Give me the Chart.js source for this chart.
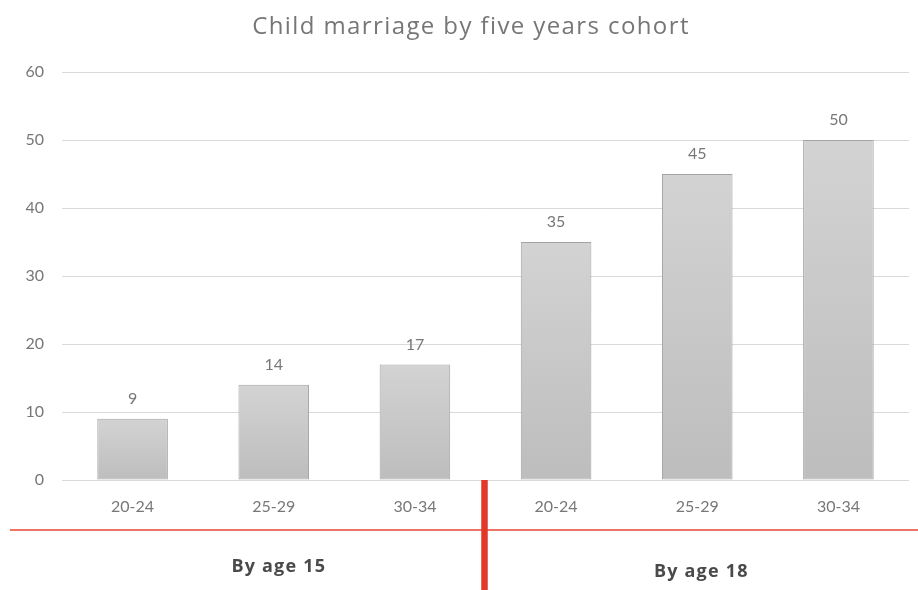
<!DOCTYPE html>
<html>
<head>
<meta charset="utf-8">
<script src="https://cdn.jsdelivr.net/npm/chart.js@4/dist/chart.umd.min.js"></script>
<style>
  html, body { margin: 0; padding: 0; background: #ffffff; }
  canvas { display: block; }
</style>
</head>
<body>
<canvas id="c" width="918" height="590"></canvas>
<script>
// Cohort categories, grouped by marriage age threshold
const cohorts = ['20-24', '25-29', '30-34', '20-24', '25-29', '30-34'];
const groups = ['By age 15', 'By age 18'];
const groupSize = 3;
// Percentage married in each cohort
const values = [9, 14, 17, 35, 45, 50];
const yTicks = [0, 10, 20, 30, 40, 50, 60];
const titleText = 'Child marriage by five years cohort';

const FONT = 'Lato, "Open Sans", sans-serif';
const HEAD_FONT = '"Open Sans", Lato, sans-serif';
const TEXT = '#777777';

// Vertical gradient for each bar, from its own top down to the baseline
function barFill(ctx) {
  const chart = ctx.chart;
  const y = chart.scales.y;
  if (!chart.chartArea || !y || ctx.dataIndex === undefined) return '#c8c8c8';
  const top = y.getPixelForValue(values[ctx.dataIndex]);
  const bottom = y.getPixelForValue(0);
  const g = chart.ctx.createLinearGradient(0, top, 0, bottom);
  g.addColorStop(0, '#d3d3d3');
  g.addColorStop(1, '#bdbdbd');
  return g;
}

// Title, value labels above bars, group labels and red separators under the axis
const annotate = {
  id: 'annotate',
  afterDatasetsDraw(chart) {
    const ctx = chart.ctx;
    const meta = chart.getDatasetMeta(0);
    ctx.save();
    ctx.fillStyle = TEXT;
    ctx.font = '16px ' + FONT;
    ctx.textAlign = 'center';
    ctx.textBaseline = 'bottom';
    meta.data.forEach((bar, i) => {
      ctx.fillText(String(values[i]), bar.x, bar.y - 12);
    });
    ctx.restore();
  },
  afterDraw(chart) {
    const ctx = chart.ctx;
    const x = chart.scales.x;
    const area = chart.chartArea;
    const H = chart.height;
    ctx.save();
    // chart title, slightly tracked out
    ctx.letterSpacing = '1.4px';
    ctx.fillStyle = '#767676';
    ctx.font = '24px ' + HEAD_FONT;
    ctx.textAlign = 'center';
    ctx.textBaseline = 'alphabetic';
    ctx.fillText(titleText, 471, 34);
    // horizontal rule beneath the cohort labels
    ctx.strokeStyle = '#e8452f';
    ctx.lineWidth = 1.5;
    ctx.beginPath();
    ctx.moveTo(10, area.bottom + 50);
    ctx.lineTo(chart.width, area.bottom + 50);
    ctx.stroke();
    // thick divider between the two groups
    const split = (x.getPixelForValue(groupSize - 1) + x.getPixelForValue(groupSize)) / 2;
    ctx.strokeStyle = '#e0392a';
    ctx.lineWidth = 6.5;
    ctx.beginPath();
    ctx.moveTo(split - 1, area.bottom);
    ctx.lineTo(split - 1, H);
    ctx.stroke();
    // group labels
    ctx.letterSpacing = '1.2px';
    ctx.fillStyle = '#4a4a4a';
    ctx.font = 'bold 18px ' + HEAD_FONT;
    ctx.textAlign = 'center';
    ctx.textBaseline = 'alphabetic';
    groups.forEach((g, gi) => {
      const mid = x.getPixelForValue(gi * groupSize + (groupSize - 1) / 2);
      ctx.fillText(g, mid + 5 - gi, area.bottom + 92 + gi * 5);
    });
    ctx.restore();
  }
};

new Chart(document.getElementById('c'), {
  type: 'bar',
  data: {
    labels: cohorts,
    datasets: [{
      data: values,
      backgroundColor: barFill,
      borderColor: '#a3a3a3',
      borderWidth: 1,
      borderSkipped: false,
      categoryPercentage: 1,
      barPercentage: 0.5
    }]
  },
  options: {
    responsive: false,
    animation: false,
    devicePixelRatio: 1,
    layout: { padding: { left: 0, right: 9, top: 72, bottom: 0 } },
    plugins: {
      legend: { display: false },
      tooltip: { enabled: false },
      title: { display: false }
    },
    scales: {
      x: {
        grid: { display: false, drawTicks: false },
        border: { display: false },
        ticks: { color: TEXT, font: { family: FONT, size: 16 }, padding: 17 },
        afterFit(s) { s.height = 110; }
      },
      y: {
        min: 0,
        max: 60,
        afterBuildTicks(s) { s.ticks = yTicks.map(v => ({ value: v })); },
        grid: { color: '#d9d9d9', lineWidth: 1, drawTicks: false },
        border: { display: false },
        ticks: { color: TEXT, font: { family: FONT, size: 16 }, padding: 18 },
        afterFit(s) { s.width = 62; }
      }
    }
  },
  plugins: [annotate]
});
</script>
</body>
</html>
